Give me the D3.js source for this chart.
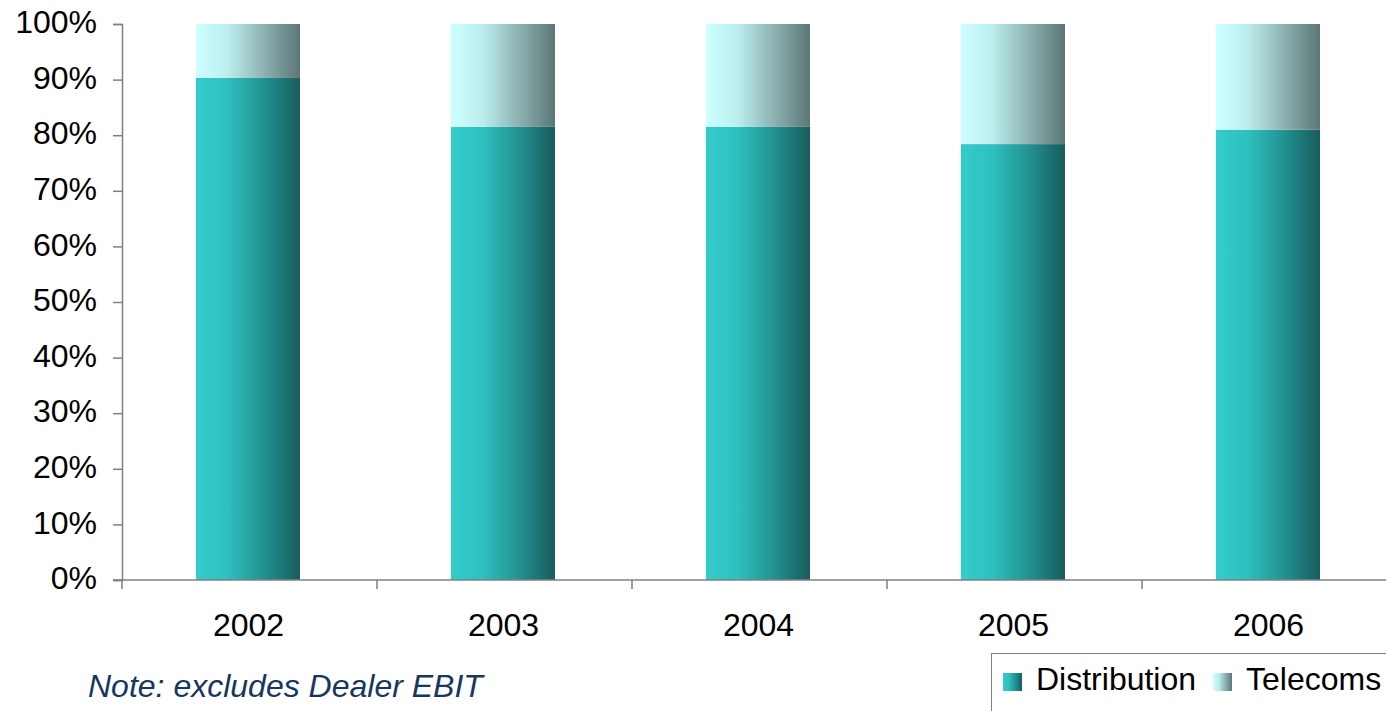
<!DOCTYPE html>
<html lang="en">
  <head>
    <meta charset="utf-8"/>
    <script src="https://d3js.org/d3.v7.min.js"></script>
    <style>
      html, body { margin: 0; padding: 0; background: #fff; }
      svg { display: block; font-family: "Liberation Sans", Arial, sans-serif; }
    </style>
  </head>
  <body>
    <svg id="chart"></svg>
    <script>
      const width = 1386;
      const height = 711;

      const years = ["2002", "2003", "2004", "2005", "2006"];
      const distribution = [90.3, 81.5, 81.5, 78.4, 81.0];
      const telecoms = [9.7, 18.5, 18.5, 21.6, 19.0];
      const yTicks = [0, 10, 20, 30, 40, 50, 60, 70, 80, 90, 100];
      const seriesNames = ["Distribution", "Telecoms"];

      const plotLeft = 122, plotTop = 24, plotBottom = 580;
      const step = 255;

      const svg = d3.select("#chart")
          .attr("width", width)
          .attr("height", height);

      const defs = svg.append("defs");
      function gradient(id, stops) {
        let g = defs.append("linearGradient").attr("id", id)
            .attr("x1", "0%").attr("x2", "100%").attr("y1", "0%").attr("y2", "0%");
        stops.forEach(function(s) {
          g.append("stop").attr("offset", s[0]).attr("stop-color", s[1]);
        });
      }
      gradient("gDist", [["0%", "#33cccc"], ["30%", "#2fc0c0"], ["65%", "#229292"], ["100%", "#185c5c"]]);
      gradient("gTel", [["0%", "#ccffff"], ["30%", "#bdeeee"], ["65%", "#8db2b2"], ["100%", "#5c7676"]]);

      const xScale = d3.scaleBand()
          .domain(years)
          .range([plotLeft, plotLeft + step * years.length])
          .padding(0);

      const yScale = d3.scaleLinear()
          .domain([0, 100])
          .range([plotBottom, plotTop]);

      // stacked data
      const rows = years.map(function(y, i) {
        return { year: y, Distribution: distribution[i], Telecoms: telecoms[i] };
      });
      const stacked = d3.stack().keys(seriesNames)(rows);
      const fills = { Distribution: "url(#gDist)", Telecoms: "url(#gTel)" };

      const barW = xScale.bandwidth() * 0.408;
      const barOff = xScale.bandwidth() * 0.29;

      svg.append("g")
        .selectAll("g")
        .data(stacked)
        .join("g")
          .attr("fill", function(d) { return fills[d.key]; })
        .selectAll("rect")
        .data(function(d) { return d; })
        .join("rect")
          .attr("x", function(d) { return xScale(d.data.year) + barOff; })
          .attr("width", barW)
          .attr("y", function(d) { return yScale(d[1]); })
          .attr("height", function(d) { return yScale(d[0]) - yScale(d[1]); });

      // Y axis
      const yAxis = d3.axisLeft(yScale)
          .tickValues(yTicks)
          .tickSize(9)
          .tickPadding(16)
          .tickFormat(function(d) { return d + "%"; });
      const yAxis_g = svg.append("g")
          .attr("transform", "translate(" + plotLeft + ",0)")
          .call(yAxis);
      yAxis_g.select(".domain").attr("stroke", "#808080").attr("stroke-width", 1.5);
      yAxis_g.selectAll(".tick line").attr("stroke", "#808080").attr("stroke-width", 1.5);
      yAxis_g.selectAll(".tick text")
          .attr("fill", "#000")
          .attr("font-size", 32)
          .attr("font-family", "Liberation Sans, Arial, sans-serif")
          .attr("dy", "0.27em");

      // X axis
      const xAxis_g = svg.append("g").attr("class", "x axis");
      xAxis_g.append("line")
          .attr("x1", plotLeft - 9).attr("x2", plotLeft + step * years.length)
          .attr("y1", plotBottom).attr("y2", plotBottom)
          .attr("stroke", "#808080").attr("stroke-width", 1.5);
      xAxis_g.selectAll(".xtick")
        .data(years)
        .join("line")
          .attr("class", "xtick")
          .attr("x1", function(d) { return xScale(d); })
          .attr("x2", function(d) { return xScale(d); })
          .attr("y1", plotBottom).attr("y2", plotBottom + 9)
          .attr("stroke", "#808080").attr("stroke-width", 1.5);
      xAxis_g.selectAll(".xlabel")
        .data(years)
        .join("text")
          .attr("class", "xlabel")
          .attr("x", function(d) { return xScale(d) + xScale.bandwidth() / 2 - 1; })
          .attr("y", 636)
          .attr("text-anchor", "middle")
          .attr("font-size", 32)
          .attr("fill", "#000")
          .text(function(d) { return d; });

      // Note
      svg.append("text")
          .attr("x", 88)
          .attr("y", 697)
          .attr("font-size", 32)
          .attr("font-style", "italic")
          .attr("fill", "#17375e")
          .text("Note: excludes Dealer EBIT");

      // Legend
      const legend = svg.append("g");
      legend.append("rect")
          .attr("x", 991.5).attr("y", 653.5)
          .attr("width", 420).attr("height", 80)
          .attr("fill", "#fff")
          .attr("stroke", "#808080").attr("stroke-width", 1);
      const legendX = [1003, 1213];
      seriesNames.forEach(function(name, i) {
        legend.append("rect")
            .attr("x", legendX[i]).attr("y", 673)
            .attr("width", 19).attr("height", 18)
            .attr("fill", fills[name]);
        legend.append("text")
            .attr("x", legendX[i] + 33)
            .attr("y", 690)
            .attr("font-size", 32)
            .attr("fill", "#000")
            .text(name);
      });
    </script>
  </body>
</html>
